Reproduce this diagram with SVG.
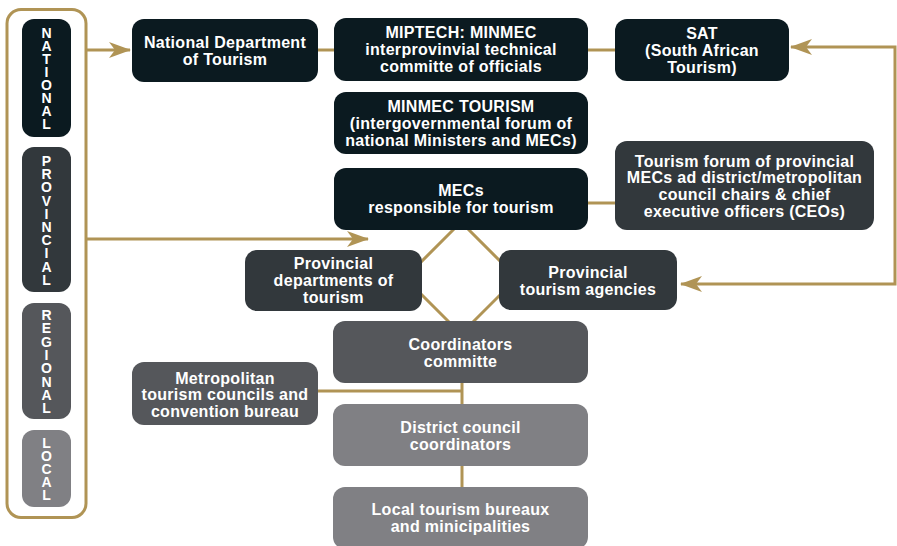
<svg xmlns="http://www.w3.org/2000/svg" width="897" height="546" viewBox="0 0 897 546">
<defs>
<style>
.lbl{font-family:"Liberation Sans",Arial,sans-serif;font-weight:bold;font-size:16px;letter-spacing:0.3px;fill:#ffffff;text-anchor:middle}
.lvl{font-family:"Liberation Sans",Arial,sans-serif;font-weight:bold;font-size:14px;fill:#ffffff;text-anchor:middle}
.con{stroke:#b09455;stroke-width:3;fill:none}
.n1{fill:#0b1a20}
.n2{fill:#32383c}
.n3{fill:#55575b}
.n4{fill:#808084}
</style>
<marker id="arr" viewBox="0 0 22 16" refX="21" refY="8" markerWidth="22" markerHeight="16" markerUnits="userSpaceOnUse" orient="auto">
<path d="M0,0 L22,8 L0,16 L6,8 z" fill="#b09455"/>
</marker>
</defs>
<rect width="897" height="546" fill="#ffffff"/>
<g id="connectors">
<rect x="7" y="9.5" width="79" height="508" rx="14" class="con" stroke-width="2.5"/>
<line x1="86" y1="50" x2="130" y2="50" class="con" marker-end="url(#arr)"/>
<line x1="86" y1="239" x2="368" y2="239" class="con" marker-end="url(#arr)"/>
<line x1="318" y1="50" x2="334" y2="50" class="con"/>
<line x1="588" y1="50" x2="615" y2="50" class="con"/>
<line x1="588" y1="203" x2="615" y2="203" class="con"/>
<path d="M895,160 V47 H791" class="con" marker-end="url(#arr)"/>
<path d="M895,160 V284 H681" class="con" marker-end="url(#arr)"/>
<polygon points="461,222 517,278 461,334 405,278" class="con" stroke-width="2.5"/>
<line x1="462" y1="383" x2="462" y2="404" class="con"/>
<line x1="462" y1="466" x2="462" y2="487" class="con"/>
<line x1="318" y1="391" x2="462" y2="391" class="con"/>
</g>
<g id="level-national">
<rect x="22" y="19" width="49" height="118" rx="12" class="n1"/>
<text class="lvl"><tspan x="46.5" y="37.5">N</tspan><tspan x="46.5" dy="13">A</tspan><tspan x="46.5" dy="13">T</tspan><tspan x="46.5" dy="13">I</tspan><tspan x="46.5" dy="13">O</tspan><tspan x="46.5" dy="13">N</tspan><tspan x="46.5" dy="13">A</tspan><tspan x="46.5" dy="13">L</tspan></text>
</g>
<g id="level-provincial">
<rect x="22" y="147" width="49" height="145" rx="12" class="n2"/>
<text class="lvl"><tspan x="46.5" y="166">P</tspan><tspan x="46.5" dy="13.2">R</tspan><tspan x="46.5" dy="13.2">O</tspan><tspan x="46.5" dy="13.2">V</tspan><tspan x="46.5" dy="13.2">I</tspan><tspan x="46.5" dy="13.2">N</tspan><tspan x="46.5" dy="13.2">C</tspan><tspan x="46.5" dy="13.2">I</tspan><tspan x="46.5" dy="13.2">A</tspan><tspan x="46.5" dy="13.2">L</tspan></text>
</g>
<g id="level-regional">
<rect x="22" y="303" width="49" height="116" rx="12" class="n3"/>
<text class="lvl"><tspan x="46.5" y="320">R</tspan><tspan x="46.5" dy="13.3">E</tspan><tspan x="46.5" dy="13.3">G</tspan><tspan x="46.5" dy="13.3">I</tspan><tspan x="46.5" dy="13.3">O</tspan><tspan x="46.5" dy="13.3">N</tspan><tspan x="46.5" dy="13.3">A</tspan><tspan x="46.5" dy="13.3">L</tspan></text>
</g>
<g id="level-local">
<rect x="22" y="430" width="49" height="77" rx="12" class="n4"/>
<text class="lvl"><tspan x="46.5" y="448">L</tspan><tspan x="46.5" dy="13">O</tspan><tspan x="46.5" dy="13">C</tspan><tspan x="46.5" dy="13">A</tspan><tspan x="46.5" dy="13">L</tspan></text>
</g>
<g id="national-department">
<rect x="132" y="19" width="186" height="63" rx="12" class="n1"/>
<text class="lbl"><tspan x="225" y="47.5">National Department</tspan><tspan x="225" dy="17">of Tourism</tspan></text>
</g>
<g id="miptech">
<rect x="334" y="18" width="254" height="63" rx="12" class="n1"/>
<text class="lbl"><tspan x="461" y="38">MIPTECH: MINMEC</tspan><tspan x="461" dy="17">interprovinvial technical</tspan><tspan x="461" dy="17">committe of officials</tspan></text>
</g>
<g id="sat">
<rect x="615" y="19" width="174" height="62" rx="12" class="n1"/>
<text class="lbl"><tspan x="702" y="38.5">SAT</tspan><tspan x="702" dy="17">(South African</tspan><tspan x="702" dy="17">Tourism)</tspan></text>
</g>
<g id="minmec-tourism">
<rect x="334" y="92" width="254" height="62" rx="12" class="n1"/>
<text class="lbl"><tspan x="461" y="111.5">MINMEC TOURISM</tspan><tspan x="461" dy="17">(intergovernmental forum of</tspan><tspan x="461" dy="17">national Ministers and MECs)</tspan></text>
</g>
<g id="tourism-forum">
<rect x="615" y="141" width="259" height="89" rx="12" class="n2"/>
<text class="lbl"><tspan x="744.5" y="166.5">Tourism forum of provincial</tspan><tspan x="744.5" dy="16.7">MECs ad district/metropolitan</tspan><tspan x="744.5" dy="16.7">council chairs &amp; chief</tspan><tspan x="744.5" dy="16.7">executive officers (CEOs)</tspan></text>
</g>
<g id="mecs">
<rect x="334" y="168" width="254" height="62" rx="12" class="n1"/>
<text class="lbl"><tspan x="461" y="196">MECs</tspan><tspan x="461" dy="17">responsible for tourism</tspan></text>
</g>
<g id="provincial-departments">
<rect x="245" y="250" width="177" height="61" rx="12" class="n2"/>
<text class="lbl"><tspan x="333.5" y="269">Provincial</tspan><tspan x="333.5" dy="17">departments of</tspan><tspan x="333.5" dy="17">tourism</tspan></text>
</g>
<g id="provincial-agencies">
<rect x="499" y="250" width="178" height="60" rx="12" class="n2"/>
<text class="lbl"><tspan x="588" y="277.5">Provincial</tspan><tspan x="588" dy="17">tourism agencies</tspan></text>
</g>
<g id="coordinators-committe">
<rect x="333" y="321" width="255" height="62" rx="12" class="n3"/>
<text class="lbl"><tspan x="460.5" y="349.5">Coordinators</tspan><tspan x="460.5" dy="17">committe</tspan></text>
</g>
<g id="metropolitan">
<rect x="132" y="362" width="186" height="63" rx="12" class="n3"/>
<text class="lbl"><tspan x="225" y="383.5">Metropolitan</tspan><tspan x="225" dy="16.5">tourism councils and</tspan><tspan x="225" dy="16.5">convention bureau</tspan></text>
</g>
<g id="district-council">
<rect x="333" y="404" width="255" height="62" rx="12" class="n4"/>
<text class="lbl"><tspan x="460.5" y="432.5">District council</tspan><tspan x="460.5" dy="17">coordinators</tspan></text>
</g>
<g id="local-tourism">
<rect x="333" y="487" width="255" height="62" rx="12" class="n4"/>
<text class="lbl"><tspan x="460.5" y="514.5">Local tourism bureaux</tspan><tspan x="460.5" dy="17">and minicipalities</tspan></text>
</g>
</svg>
